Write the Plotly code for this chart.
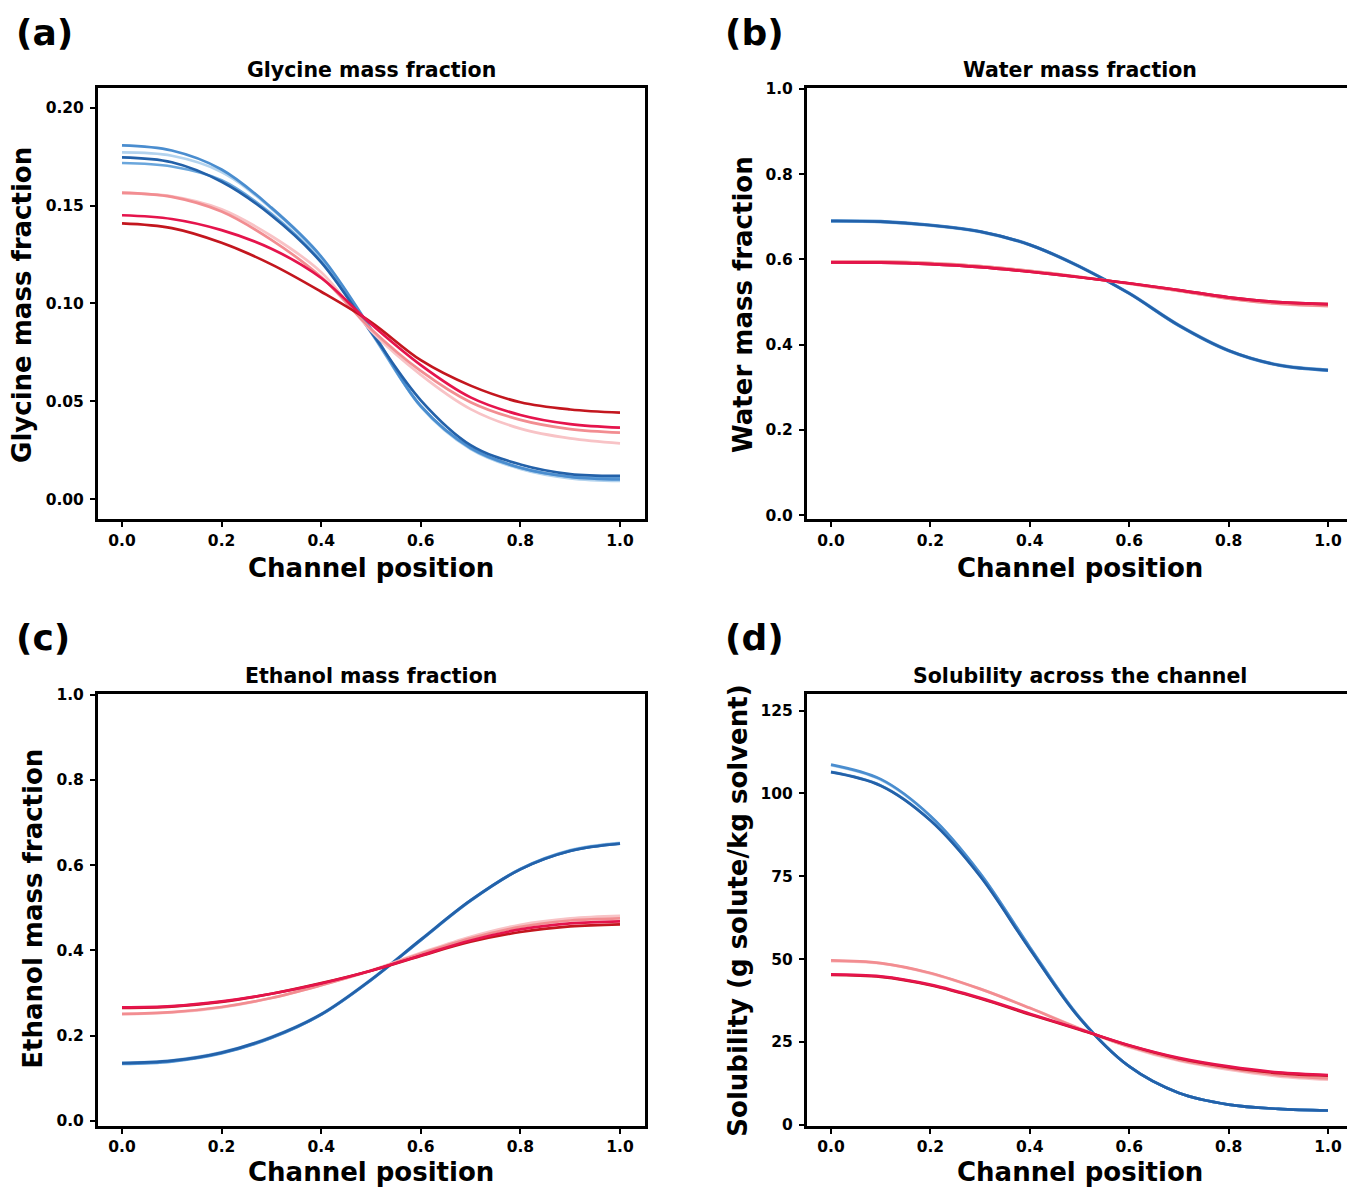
import plotly.graph_objects as go

# ---------------- data ----------------
x_pos = [0.0, 0.1, 0.2, 0.3, 0.4, 0.5, 0.6, 0.7, 0.8, 0.9, 1.0]

# (a) glycine mass fraction
gly_b1 = [0.1808, 0.1782, 0.1685, 0.1490, 0.1240, 0.0870, 0.0475, 0.0262, 0.0160, 0.0113, 0.0100]
gly_b2 = [0.1772, 0.1755, 0.1672, 0.1485, 0.1235, 0.0865, 0.0472, 0.0256, 0.0154, 0.0106, 0.0093]
gly_b3 = [0.1747, 0.1722, 0.1622, 0.1450, 0.1210, 0.0855, 0.0505, 0.0276, 0.0177, 0.0128, 0.0119]
gly_b4 = [0.1718, 0.1700, 0.1630, 0.1458, 0.1215, 0.0852, 0.0476, 0.0260, 0.0160, 0.0115, 0.0106]
gly_r1 = [0.1567, 0.1545, 0.1470, 0.1325, 0.1135, 0.0870, 0.0655, 0.0495, 0.0405, 0.0358, 0.0340]
gly_r2 = [0.1563, 0.1548, 0.1482, 0.1345, 0.1160, 0.0860, 0.0635, 0.0460, 0.0360, 0.0310, 0.0285]
gly_r3 = [0.1451, 0.1432, 0.1375, 0.1280, 0.1130, 0.0895, 0.0685, 0.0520, 0.0430, 0.0383, 0.0365]
gly_r4 = [0.1409, 0.1385, 0.1310, 0.1200, 0.1060, 0.0905, 0.0710, 0.0580, 0.0495, 0.0458, 0.0442]

# (b) water mass fraction
wat_b1 = [0.691, 0.6895, 0.681, 0.666, 0.635, 0.584, 0.520, 0.444, 0.385, 0.351, 0.339]
wat_b2 = [0.689, 0.6875, 0.679, 0.664, 0.633, 0.582, 0.519, 0.444, 0.386, 0.352, 0.340]
wat_b3 = [0.690, 0.6885, 0.680, 0.665, 0.634, 0.583, 0.520, 0.445, 0.386, 0.352, 0.340]
wat_b4 = [0.689, 0.6880, 0.680, 0.665, 0.634, 0.583, 0.521, 0.446, 0.387, 0.353, 0.341]
wat_r1 = [0.595, 0.5945, 0.591, 0.584, 0.573, 0.559, 0.543, 0.526, 0.508, 0.4960, 0.4910]
wat_r2 = [0.595, 0.5945, 0.591, 0.584, 0.573, 0.559, 0.543, 0.526, 0.508, 0.4955, 0.4905]
wat_r3 = [0.593, 0.5925, 0.589, 0.582, 0.571, 0.558, 0.544, 0.528, 0.511, 0.4995, 0.4950]
wat_r4 = [0.593, 0.5925, 0.589, 0.582, 0.571, 0.558, 0.544, 0.528, 0.511, 0.4995, 0.4950]

# (c) ethanol mass fraction
eth_b1 = [0.1345, 0.140, 0.159, 0.195, 0.249, 0.330, 0.424, 0.517, 0.591, 0.634, 0.651]
eth_b2 = [0.1365, 0.142, 0.161, 0.197, 0.251, 0.332, 0.426, 0.518, 0.591, 0.635, 0.652]
eth_b3 = [0.1355, 0.141, 0.160, 0.196, 0.250, 0.331, 0.425, 0.517, 0.590, 0.633, 0.650]
eth_b4 = [0.1335, 0.139, 0.158, 0.194, 0.249, 0.330, 0.424, 0.516, 0.590, 0.633, 0.650]
eth_r1 = [0.251, 0.255, 0.267, 0.288, 0.318, 0.352, 0.392, 0.428, 0.455, 0.470, 0.475]
eth_r2 = [0.250, 0.254, 0.266, 0.288, 0.318, 0.353, 0.394, 0.432, 0.460, 0.475, 0.481]
eth_r3 = [0.266, 0.269, 0.280, 0.298, 0.322, 0.352, 0.388, 0.423, 0.449, 0.463, 0.468]
eth_r4 = [0.265, 0.268, 0.279, 0.298, 0.323, 0.352, 0.387, 0.420, 0.443, 0.456, 0.461]

# (d) solubility (g solute / kg solvent)
sol_b1 = [108.7, 104.3, 93.2, 75.9, 53.6, 32.4, 17.6, 9.6, 6.1, 4.8, 4.3]
sol_b2 = [108.5, 104.1, 93.1, 75.9, 53.6, 32.4, 17.6, 9.6, 6.1, 4.8, 4.3]
sol_b3 = [106.4, 102.3, 91.8, 75.0, 53.0, 32.2, 17.6, 9.6, 6.1, 4.8, 4.3]
sol_b4 = [106.5, 102.4, 91.9, 75.1, 53.1, 32.2, 17.6, 9.6, 6.1, 4.8, 4.3]
sol_r1 = [49.6, 48.8, 45.8, 41.0, 35.2, 29.0, 23.6, 19.6, 17.0, 15.0, 14.0]
sol_r2 = [49.4, 48.7, 45.7, 41.0, 35.3, 29.1, 23.4, 19.3, 16.6, 14.6, 13.6]
sol_r3 = [45.4, 44.8, 42.3, 38.3, 33.5, 28.8, 24.0, 20.2, 17.6, 15.8, 15.0]
sol_r4 = [45.2, 44.6, 42.1, 38.1, 33.3, 28.7, 23.9, 20.0, 17.4, 15.6, 14.8]

panel_letters = ["(a)", "(b)", "(c)", "(d)"]
panel_titles = ["Glycine mass fraction", "Water mass fraction",
                "Ethanol mass fraction", "Solubility across the channel"]
y_titles = ["Glycine mass fraction", "Water mass fraction",
            "Ethanol mass fraction", "Solubility (g solute/kg solvent)"]
x_title = "Channel position"

# ---------------- styling ----------------
blue_colors = ["#4a8dcf", "#b3d3ee", "#2361a9", "#6aa6dc"]
red_colors = ["#f28d91", "#f8c3c6", "#e5144c", "#c3161e"]
FONT = "DejaVu Sans"
W, H = 1347, 1189

fig = go.Figure()

panels = [
    ([gly_b1, gly_b2, gly_b3, gly_b4], [gly_r1, gly_r2, gly_r3, gly_r4], "x", "y"),
    ([wat_b1, wat_b2, wat_b3, wat_b4], [wat_r1, wat_r2, wat_r3, wat_r4], "x2", "y2"),
    ([eth_b1, eth_b2, eth_b3, eth_b4], [eth_r1, eth_r2, eth_r3, eth_r4], "x3", "y3"),
    ([sol_b1, sol_b2, sol_b3, sol_b4], [sol_r1, sol_r2, sol_r3, sol_r4], "x4", "y4"),
]

blue_order = [1, 3, 0, 2]      # light first, dark last
red_order = [1, 0, 3, 2]       # pink, salmon, dark red, crimson
for blues, reds, xa, ya in panels:
    for i in blue_order:
        fig.add_trace(go.Scatter(x=x_pos, y=blues[i], mode="lines", xaxis=xa, yaxis=ya,
                                 line=dict(color=blue_colors[i], width=2.7, shape="spline", smoothing=1.0),
                                 showlegend=False, hoverinfo="skip"))
    for i in red_order:
        fig.add_trace(go.Scatter(x=x_pos, y=reds[i], mode="lines", xaxis=xa, yaxis=ya,
                                 line=dict(color=red_colors[i], width=2.7, shape="spline", smoothing=1.0),
                                 showlegend=False, hoverinfo="skip"))


def px_x(p):
    return p / W


def px_y(p):
    return 1 - p / H


tick_font = dict(family=FONT, size=15.5, color="black", weight="bold")

dom_x_left = [px_x(98), px_x(645)]
dom_x_right = [px_x(807), 1.0]
dom_y_top = [px_y(518), px_y(81)]
dom_y_bot = [px_y(1133), px_y(695)]


def xaxis(domain, rng, anchor):
    return dict(domain=domain, range=rng, anchor=anchor, showgrid=False, zeroline=False,
                showline=True, linecolor="black", linewidth=3, mirror=True,
                ticks="outside", ticklen=5, tickwidth=1.5, tickcolor="black",
                tickmode="array", tickvals=[0, 0.2, 0.4, 0.6, 0.8, 1.0],
                ticktext=["0.0", "0.2", "0.4", "0.6", "0.8", "1.0"], tickfont=tick_font)


def yaxis(domain, rng, anchor, vals, texts, mirror):
    return dict(domain=domain, range=rng, anchor=anchor, showgrid=False, zeroline=False,
                showline=True, linecolor="black", linewidth=3, mirror=mirror,
                ticks="outside", ticklen=5, tickwidth=1.5, tickcolor="black",
                ticklabelstandoff=3,
                tickmode="array", tickvals=vals, ticktext=texts, tickfont=tick_font)


rng_x_left = [-0.0482, 1.0502]
rng_x_right = [-0.0483, 1.0382]

fig.update_layout(
    width=W, height=H, margin=dict(l=0, r=0, t=0, b=0),
    paper_bgcolor="white", plot_bgcolor="white",
    xaxis=xaxis(dom_x_left, rng_x_left, "y"),
    yaxis=yaxis(dom_y_top, [-0.0102, 0.2102], "x",
                [0, 0.05, 0.10, 0.15, 0.20], ["0.00", "0.05", "0.10", "0.15", "0.20"], True),
    xaxis2=xaxis(dom_x_right, rng_x_right, "y2"),
    yaxis2=yaxis(dom_y_top, [-0.0093, 1.0023], "x2",
                 [0, 0.2, 0.4, 0.6, 0.8, 1.0], ["0.0", "0.2", "0.4", "0.6", "0.8", "1.0"], False),
    xaxis3=xaxis(dom_x_left, rng_x_left, "y3"),
    yaxis3=yaxis(dom_y_bot, [-0.0117, 1.0023], "x3",
                 [0, 0.2, 0.4, 0.6, 0.8, 1.0], ["0.0", "0.2", "0.4", "0.6", "0.8", "1.0"], True),
    xaxis4=xaxis(dom_x_right, rng_x_right, "y4"),
    yaxis4=yaxis(dom_y_bot, [-0.3, 130.1], "x4",
                 [0, 25, 50, 75, 100, 125], ["0", "25", "50", "75", "100", "125"], False),
)

annotations = []
letter_pos = [(14, 25), (723, 25), (14, 638), (723, 638)]
title_pos = [(371, 63), (1080, 63), (371, 677), (1080, 677)]
xtitle_pos = [(371, 568), (1080, 568), (371, 1180), (1080, 1180)]
ytitle_pos = [(22, 301), (743, 301), (33, 913), (738, 915)]

for k in range(4):
    lx, ly = letter_pos[k]
    annotations.append(dict(text=panel_letters[k], x=px_x(lx), y=px_y(ly), xref="paper", yref="paper",
                            xanchor="left", yanchor="middle", showarrow=False,
                            font=dict(family=FONT, size=36, color="black", weight="bold")))
    tx, ty = title_pos[k]
    annotations.append(dict(text=panel_titles[k], x=px_x(tx), y=px_y(ty), xref="paper", yref="paper",
                            xanchor="center", yanchor="middle", showarrow=False,
                            font=dict(family=FONT, size=20.5, color="black", weight="bold")))
    ax_, ay_ = xtitle_pos[k]
    annotations.append(dict(text=x_title, x=px_x(ax_), y=px_y(ay_), xref="paper", yref="paper",
                            xanchor="center", yanchor="middle", showarrow=False,
                            font=dict(family=FONT, size=26, color="black", weight="bold")))
    yx, yy = ytitle_pos[k]
    annotations.append(dict(text=y_titles[k], x=px_x(yx), y=px_y(yy), xref="paper", yref="paper",
                            xanchor="center", yanchor="middle", showarrow=False, textangle=-90,
                            font=dict(family=FONT, size=26, color="black", weight="bold")))

fig.update_layout(annotations=annotations)

fig.write_html("out.html")
